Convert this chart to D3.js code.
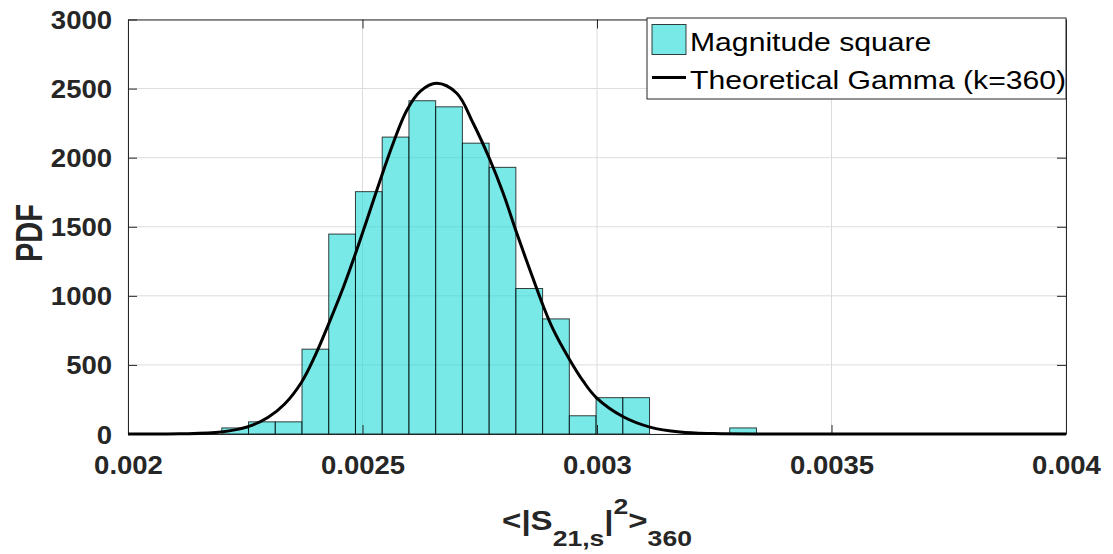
<!DOCTYPE html>
<html>
<head>
<meta charset="utf-8">
<script src="https://cdn.jsdelivr.net/npm/d3@7"></script>
<style>
  html, body { margin: 0; padding: 0; background: #fff; }
  svg { display: block; font-family: "Liberation Sans", Arial, sans-serif; }
</style>
</head>
<body>
<svg id="chart" width="1113" height="554"></svg>
<script>
// Histogram bins (left edges) and their normalised heights (PDF)
const binEdges = [0.002200, 0.002257, 0.002314, 0.002371, 0.002428, 0.002485, 0.002542,
                  0.002599, 0.002656, 0.002713, 0.002770, 0.002827, 0.002884, 0.002941,
                  0.002998, 0.003055, 0.003112, 0.003169, 0.003226, 0.003283, 0.003340];
const binPdf = [44, 88, 88, 614, 1447, 1754, 2149, 2412, 2368, 2105,
                1930, 1053, 833, 132, 263, 263, 0, 0, 0, 44];

// Theoretical Gamma density (k = 360), sampled points
const gammaX = [0.00200, 0.00211, 0.002199, 0.002256, 0.002299, 0.002334, 0.002370, 0.002398,
                0.002427, 0.002459, 0.002484, 0.002509, 0.002537, 0.002566, 0.002594, 0.002623,
                0.002658, 0.002701, 0.002736, 0.002772, 0.002800, 0.002829, 0.002857, 0.002886,
                0.002907, 0.002942, 0.002971, 0.002999, 0.003056, 0.003113, 0.003177, 0.003248,
                0.003430, 0.004000];
const gammaY = [0, 1, 14, 53, 121, 217, 375, 560,
                790, 1060, 1295, 1545, 1830, 2110, 2340, 2480,
                2538, 2466, 2249, 1983, 1742, 1453, 1187, 921,
                753, 536, 380, 262, 125, 50, 14, 3,
                0, 0];

// Axis ticks
const xTicks = [0.002, 0.0025, 0.003, 0.0035, 0.004];
const xTickLabels = ["0.002", "0.0025", "0.003", "0.0035", "0.004"];
const yTicks = [0, 500, 1000, 1500, 2000, 2500, 3000];
const yTickLabels = ["0", "500", "1000", "1500", "2000", "2500", "3000"];

const legendLabels = ["Magnitude square", "Theoretical Gamma (k=360)"];

const W = 1113, H = 554;
const margin = { left: 128, right: 47, top: 19.5, bottom: 120 };
const iw = W - margin.left - margin.right;
const ih = H - margin.top - margin.bottom;

const axisColor = "#262626";
const barFill = "rgb(30,218,214)";
const stretch = 1.1;   // horizontal widening of label glyphs

const svg = d3.select("#chart");
const g = svg.append("g").attr("transform", `translate(${margin.left},${margin.top})`);

const x = d3.scaleLinear().domain([0.002, 0.004]).range([0, iw]);
const y = d3.scaleLinear().domain([0, 3000]).range([ih, 0]);

// grid
const grid = g.append("g").attr("class", "grid");
grid.selectAll("line.gx").data(xTicks).join("line")
  .attr("x1", d => x(d)).attr("x2", d => x(d))
  .attr("y1", 0).attr("y2", ih)
  .attr("stroke", "#dcdcdc").attr("stroke-width", 1);
grid.selectAll("line.gy").data(yTicks).join("line")
  .attr("x1", 0).attr("x2", iw)
  .attr("y1", d => y(d)).attr("y2", d => y(d))
  .attr("stroke", "#dcdcdc").attr("stroke-width", 1);

// histogram bars
const bins = binPdf.map((v, i) => ({ x0: binEdges[i], x1: binEdges[i + 1], v }));
g.append("g").selectAll("rect").data(bins.filter(b => b.v > 0)).join("rect")
  .attr("x", d => x(d.x0))
  .attr("y", d => y(d.v))
  .attr("width", d => x(d.x1) - x(d.x0))
  .attr("height", d => y(0) - y(d.v))
  .attr("fill", barFill).attr("fill-opacity", 0.6)
  .attr("stroke", "#000").attr("stroke-opacity", 0.75).attr("stroke-width", 1);

// axes
const xAxis = d3.axisBottom(x).tickValues(xTicks)
  .tickFormat((d, i) => xTickLabels[i]).tickSizeInner(-9).tickSizeOuter(0);
const xAxisTop = d3.axisTop(x).tickValues(xTicks).tickFormat("").tickSizeInner(-9).tickSizeOuter(0);
const yAxis = d3.axisLeft(y).tickValues(yTicks)
  .tickFormat((d, i) => yTickLabels[i]).tickSizeInner(-9).tickSizeOuter(0);
const yAxisRight = d3.axisRight(y).tickValues(yTicks).tickFormat("").tickSizeInner(-9).tickSizeOuter(0);

function styleAxis(sel) {
  sel.select(".domain").attr("stroke", axisColor).attr("stroke-width", 1);
  sel.selectAll(".tick line").attr("stroke", axisColor).attr("stroke-width", 1);
  sel.selectAll(".tick text").attr("fill", axisColor)
    .style("font-family", "'Liberation Sans', Arial, sans-serif")
    .style("font-weight", "bold").style("font-size", "25px");
}

const gx = g.append("g").attr("transform", `translate(0,${ih})`).call(xAxis).call(styleAxis);
gx.selectAll(".tick text").attr("y", 0).attr("dy", 0)
  .attr("transform", `translate(0,40) scale(${stretch},1)`);
g.append("g").call(xAxisTop).call(styleAxis);

const gy = g.append("g").call(yAxis).call(styleAxis);
gy.selectAll(".tick text").attr("x", 0).attr("dy", "0.36em")
  .attr("transform", `translate(-16,0) scale(${stretch},1)`);
g.append("g").attr("transform", `translate(${iw},0)`).call(yAxisRight).call(styleAxis);

// gamma curve
const line = d3.line()
  .x((d, i) => x(gammaX[i]))
  .y((d, i) => y(gammaY[i]))
  .curve(d3.curveCatmullRom.alpha(0.5));
g.append("path").datum(gammaY)
  .attr("d", line)
  .attr("fill", "none").attr("stroke", "#000").attr("stroke-width", 3);

// y label
svg.append("text")
  .attr("transform", `translate(42,${233}) rotate(-90) scale(1,1.3)`)
  .attr("text-anchor", "middle")
  .attr("fill", axisColor)
  .style("font-weight", "bold").style("font-size", "29px")
  .text("PDF");

// x label: <|S_{21,s}|^2>_{360}
const xl = svg.append("text")
  .attr("transform", `translate(${margin.left + iw / 2},530) scale(1.18,1)`)
  .attr("text-anchor", "middle")
  .attr("fill", axisColor)
  .style("font-weight", "bold").style("font-size", "28px");
xl.append("tspan").text("<|S");
xl.append("tspan").attr("dy", 16).style("font-size", "22.5px").text("21,s");
xl.append("tspan").attr("dy", -16).text("|");
xl.append("tspan").attr("dy", -16).style("font-size", "22.5px").text("2");
xl.append("tspan").attr("dy", 16).text(">");
xl.append("tspan").attr("dy", 16).style("font-size", "22.5px").text("360");

// legend
const lg = svg.append("g").attr("transform", `translate(647,18)`);
lg.append("rect").attr("x", 0).attr("y", 0).attr("width", 419).attr("height", 81)
  .attr("fill", "#fff").attr("stroke", axisColor).attr("stroke-width", 1);
lg.append("rect").attr("x", 5).attr("y", 6.5).attr("width", 34).attr("height", 30)
  .attr("fill", barFill).attr("fill-opacity", 0.6)
  .attr("stroke", "#000").attr("stroke-opacity", 0.75).attr("stroke-width", 1);
lg.append("line").attr("x1", 5).attr("x2", 39).attr("y1", 59.5).attr("y2", 59.5)
  .attr("stroke", "#000").attr("stroke-width", 3);
lg.selectAll("text.lbl").data(legendLabels).join("text")
  .attr("class", "lbl")
  .attr("transform", (d, i) => `translate(43,${i === 0 ? 32.5 : 71}) scale(1.16,1)`)
  .attr("fill", "#000")
  .style("font-size", "26px")
  .text(d => d);
</script>
</body>
</html>
